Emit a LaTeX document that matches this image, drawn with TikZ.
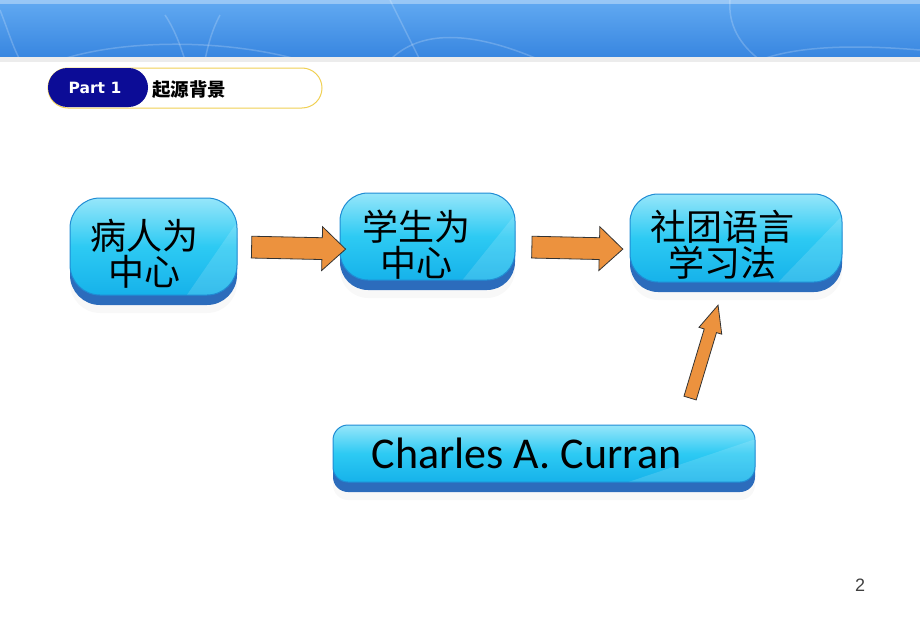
\documentclass[tikz,border=0pt]{standalone}
\usepackage{fontspec}
\setmainfont{Carlito}
\newfontfamily\cjkfont{Noto Sans CJK SC}
\newfontfamily\partfont{DejaVu Sans}
\newfontfamily\numfont{Liberation Sans}
\usetikzlibrary{positioning,calc,shapes.arrows,shadows}

\definecolor{bannertop}{RGB}{98,170,242}
\definecolor{bannerbot}{RGB}{56,134,224}
\definecolor{facetop}{RGB}{150,230,250}
\definecolor{facemid}{RGB}{45,202,243}
\definecolor{facebot}{RGB}{22,178,234}
\definecolor{faceline}{RGB}{32,140,212}
\definecolor{rimblue}{RGB}{44,108,188}
\definecolor{arroworange}{RGB}{236,146,62}
\definecolor{partnavy}{RGB}{12,12,150}
\definecolor{partyellow}{RGB}{240,208,84}

\begin{document}
\begin{tikzpicture}[x=1pt,y=-1pt]
        \tikzstyle{every node}=[inner sep=0pt]
        \tikzstyle{cbox}=[draw=faceline,line width=1pt,top color=facetop,bottom color=facebot,middle color=facemid,
            general shadow={fill=gray!30,opacity=.18,shadow yshift=-18pt},
            general shadow={fill=rimblue,shadow yshift=-10pt},
            path picture={\fill[white,opacity=.14,sharp corners]
                ($(path picture bounding box.south east)!.3!(path picture bounding box.south west)$)
                -- ($(path picture bounding box.south east)!.75!(path picture bounding box.north east)$)
                -- (path picture bounding box.south east) -- cycle;}]
        \tikzstyle{cjktext}=[font=\cjkfont\fontsize{36}{36}\selectfont,align=center]
        \tikzstyle{fatarrow}=[single arrow,draw=black!80,fill=arroworange,line width=.8pt,inner ysep=10.5pt,
            single arrow head extend=11pt,single arrow tip angle=86]
        \tikzstyle{thinarrow}=[single arrow,draw=black!80,fill=arroworange,line width=.8pt,inner ysep=6pt,
            single arrow head extend=5.5pt,single arrow tip angle=48]

        \useasboundingbox (0,0) rectangle (920,626);

        %%% banner
        \shade[top color=bannertop,bottom color=bannerbot] (0,0) rectangle (920,57);
        \fill[white,opacity=.35] (0,0) rectangle (920,4);
        \fill[gray!15] (0,57) rectangle (920,62);
        \begin{scope}
            \clip (0,0) rectangle (920,57);
            \draw[white,opacity=.2,line width=1.5pt] (60,60) .. controls (120,40) and (220,38) .. (300,60);
            \draw[white,opacity=.2,line width=1.5pt] (165,15) .. controls (175,30) and (180,45) .. (185,60);
            \draw[white,opacity=.2,line width=1.5pt] (220,15) .. controls (212,30) and (208,45) .. (205,60);
            \draw[white,opacity=.2,line width=1.5pt] (0,10) .. controls (8,30) and (12,45) .. (20,60);
            \draw[white,opacity=.2,line width=1.5pt] (390,0) .. controls (400,20) and (410,40) .. (420,60);
            \draw[white,opacity=.2,line width=1.5pt] (390,60) .. controls (420,30) and (470,30) .. (540,60);
            \draw[white,opacity=.2,line width=1.5pt] (730,0) .. controls (728,25) and (740,45) .. (760,60);
            \draw[white,opacity=.2,line width=1.5pt] (760,60) .. controls (800,45) and (860,45) .. (920,50);
        \end{scope}

        %%% part label
        \draw[partyellow,fill=white,line width=1pt,rounded corners=20pt] (48,68) rectangle (322,108);
        \fill[partnavy,rounded corners=19.5pt] (48,68) rectangle (148,107);
        \node[text=white,font=\partfont\bfseries\fontsize{15.5}{18}\selectfont] (part) at (95,88) {Part 1};
        \node[font=\cjkfont\bfseries\fontsize{18.5}{20}\selectfont] (title) at (189,90) {起源背景};

        %%% boxes
        \node[cbox,rounded corners=30pt,minimum width=167pt,minimum height=97pt] (b1) at (153.5,246.5) {};
        \node[cbox,rounded corners=28pt,minimum width=175pt,minimum height=87pt] (b2) at (427.5,236.5) {};
        \node[cbox,rounded corners=28pt,minimum width=212pt,minimum height=88pt] (b3) at (736,238) {};
        \node[cbox,rounded corners=15pt,minimum width=422pt,minimum height=57pt] (b4) at (544,453.5) {};

        \node[cjktext] (t1) at (144,254) {病人为\\中心};
        \node[cjktext] (t2) at (416,245) {学生为\\中心};
        \node[cjktext] (t3) at (722,245) {社团语言\\学习法};
        \node[font=\fontsize{44}{44}\selectfont,anchor=base] (t4) at (526.5,468) {Charles A. Curran};

        %%% arrows
        \coordinate (a1s) at (246,247);
        \coordinate (a1e) at (b2.west |- 0,249);
        \coordinate (a2s) at (526,247);
        \coordinate (a2e) at (617,249);
        \coordinate (a3s) at (688,405);
        \coordinate (a3e) at (716,312);
        \path (a1s) -- (a1e) node[midway,sloped,fatarrow,minimum height=94pt] (a1) {};
        \path (a2s) -- (a2e) node[midway,sloped,fatarrow,minimum height=91pt] (a2) {};
        \path (a3s) -- (a3e) node[midway,sloped,thinarrow,minimum height=97pt] (a3) {};

        \node[text=black!75,font=\numfont\fontsize{18}{18}\selectfont] (pnum) at (860,585) {2};
\end{tikzpicture}
\end{document}
